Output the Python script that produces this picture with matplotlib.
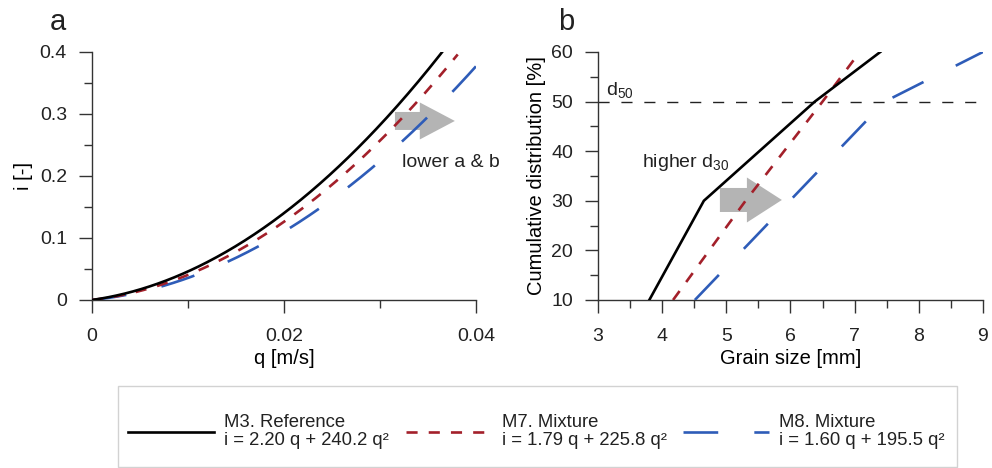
import matplotlib.pyplot as plt
from matplotlib.patches import FancyArrow, Rectangle
from matplotlib.ticker import MultipleLocator
import numpy as np

plt.rcParams['font.family'] = ['Liberation Sans', 'DejaVu Sans']
plt.rcParams['mathtext.fontset'] = 'custom'
plt.rcParams['mathtext.rm'] = 'Liberation Sans'
plt.rcParams['lines.scale_dashes'] = False

# rating curves i = a q + b q^2 for each mixture
mix_names = ['M3. Reference', 'M7. Mixture', 'M8. Mixture']
coef_a = [2.20, 1.79, 1.60]
coef_b = [240.2, 225.8, 195.5]
q_max = [0.0366, 0.0381, 0.0401]

# grain size distributions (lower part)
cum_pct = [10, 30, 50, 60]
d_m3 = [3.80, 4.65, 6.38, 7.40]
d_m7 = [4.17, 5.30, 6.50, 7.08]
d_m8 = [4.51, 5.99, 7.47, 9.00]

a_xticks = [0, 0.02, 0.04]
a_xticklabels = ['0', '0.02', '0.04']
a_yticks = [0, 0.1, 0.2, 0.3, 0.4]
a_yticklabels = ['0', '0.1', '0.2', '0.3', '0.4']
b_xticks = [3, 4, 5, 6, 7, 8, 9]
b_yticks = [10, 20, 30, 40, 50, 60]

colors = ['black', '#a3202a', '#2e5cb8']
dashes = [None, (8, 8), (25, 26)]
lw = 1.9
axis_col = '#333333'

fig = plt.figure(figsize=(9.92, 4.68), dpi=100)
ax_a = fig.add_axes([0.0927, 0.359, 0.3871, 0.530])
ax_b = fig.add_axes([0.6028, 0.359, 0.3881, 0.530])


def style_axis(ax):
    for s in ['top', 'right']:
        ax.spines[s].set_visible(False)
    for s in ['left', 'bottom']:
        ax.spines[s].set_color(axis_col)
        ax.spines[s].set_linewidth(1.0)
    ax.tick_params(which='both', direction='out', color=axis_col, width=1.0,
                   labelsize=14, labelcolor='#222222')
    ax.tick_params(which='major', length=9.5)
    ax.tick_params(which='minor', length=6)
    ax.tick_params(axis='x', which='both', pad=10.5)
    ax.tick_params(axis='y', which='both', pad=8.5)


# panel a: hydraulic gradient vs specific discharge
handles = []
for k in range(3):
    q = np.linspace(0, q_max[k], 300)
    i = coef_a[k] * q + coef_b[k] * q ** 2
    label = f'{mix_names[k]}\ni = {coef_a[k]:.2f} q + {coef_b[k]:.1f} q\u00b2'
    ln, = ax_a.plot(q, i, color=colors[k], lw=lw, label=label, zorder=3 - k * 0.1)
    if dashes[k] is not None:
        ln.set_dashes(dashes[k])
    handles.append(ln)

ax_a.set_xlim(0, 0.04)
ax_a.set_ylim(0, 0.4)
ax_a.set_xticks(a_xticks, a_xticklabels)
ax_a.set_yticks(a_yticks, a_yticklabels)
ax_a.xaxis.set_minor_locator(MultipleLocator(0.01))
ax_a.yaxis.set_minor_locator(MultipleLocator(0.05))
style_axis(ax_a)
ax_a.set_xlabel('q [m/s]', fontsize=14.5, labelpad=3)
ax_a.set_ylabel('i [-]', fontsize=14.5, labelpad=5)

ax_a.add_patch(FancyArrow(0.03156, 0.2887, 0.00624, 0, width=0.029,
                          head_width=0.0597, head_length=0.00365,
                          length_includes_head=True, color='#b4b4b4',
                          lw=0, zorder=1.5))
ax_a.text(0.0323, 0.2145, 'lower a & b', fontsize=14, va='baseline',
          color='#222222')

# panel b: cumulative grain size distribution
for k, d in enumerate([d_m3, d_m7, d_m8]):
    ln, = ax_b.plot(d, cum_pct, color=colors[k], lw=lw, zorder=3 - k * 0.1)
    if dashes[k] is not None:
        ln.set_dashes(dashes[k])

ax_b.axhline(50, color='#222222', lw=1.0, dashes=(8, 8.5), zorder=1)
ax_b.set_xlim(3, 9)
ax_b.set_ylim(10, 60)
ax_b.set_xticks(b_xticks)
ax_b.set_yticks(b_yticks)
ax_b.xaxis.set_minor_locator(MultipleLocator(0.5))
ax_b.yaxis.set_minor_locator(MultipleLocator(5))
style_axis(ax_b)
ax_b.set_xlabel('Grain size [mm]', fontsize=14.5, labelpad=3)
ax_b.set_ylabel('Cumulative distribution [%]', fontsize=14.5, labelpad=4)

ax_b.add_patch(FancyArrow(4.90, 30.16, 0.966, 0, width=4.84,
                          head_width=9.07, head_length=0.545,
                          length_includes_head=True, color='#b4b4b4',
                          lw=0, zorder=1.5))
ax_b.text(3.125, 51.3, r'$\mathregular{d_{50}}$', fontsize=14, va='baseline',
          color='#222222')
ax_b.text(3.685, 36.8, r'higher $\mathregular{d_{30}}$', fontsize=14,
          va='baseline', color='#222222')

# panel letters
fig.text(0.0504, 0.936, 'a', fontsize=21, va='baseline', color='#222222')
fig.text(0.5625, 0.936, 'b', fontsize=21, va='baseline', color='#222222')

# shared legend in a light box
leg = fig.legend(handles=handles, loc='center', bbox_to_anchor=(0.541, 0.078),
                 ncol=3, frameon=False, fontsize=13.3, handlelength=4.65,
                 handletextpad=0.54, columnspacing=0.9, borderpad=0)
for t in leg.get_texts():
    t.set_linespacing(1.05)
    t.set_color('#222222')
fig.patches.append(Rectangle((0.119, 0.003), 0.8458, 0.173,
                             transform=fig.transFigure, fill=False,
                             edgecolor='#d2d2d2', lw=1.0))

fig.savefig('out.png', dpi=100)
